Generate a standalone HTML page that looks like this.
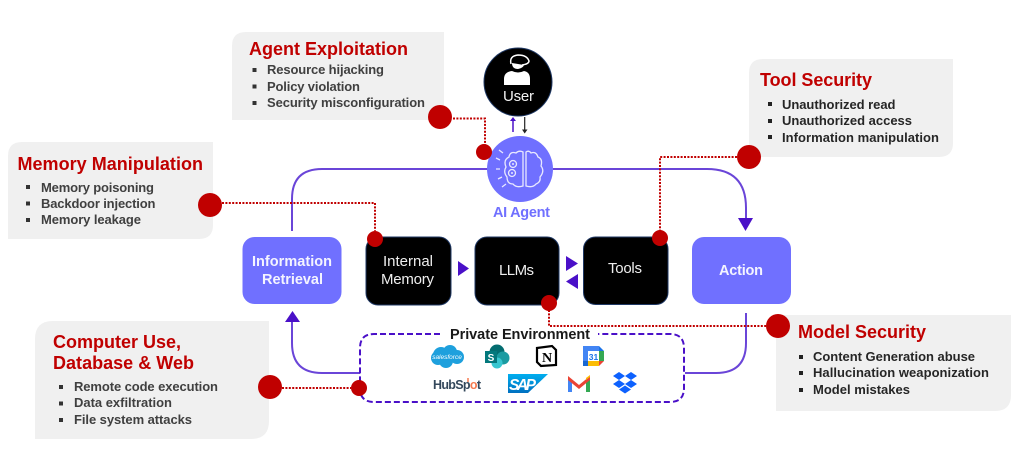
<!DOCTYPE html>
<html><head><meta charset="utf-8"><style>
html,body{margin:0;padding:0;background:#fff}
svg{display:block;filter:blur(0.35px)}
text{font-family:"Liberation Sans",sans-serif}
.t{font-size:18px;font-weight:bold;fill:#c00000}
.b{font-size:13px;font-weight:bold;fill:#404040}
.d{font-size:13px;font-weight:bold;fill:#262626}
.n{font-size:15px;fill:#eee}
.p{font-size:14.5px;font-weight:bold;fill:#f4f4ff}
.dot{stroke:#c00000;stroke-width:2;stroke-dasharray:2 1.4;fill:none}
.pl{stroke:#6a45d8;stroke-width:2;fill:none}
.w{fill:none;stroke:#e8e8ff;stroke-width:1.3}
</style></head><body>
<svg width="1024" height="463" viewBox="0 0 1024 463" xmlns="http://www.w3.org/2000/svg">
<rect width="1024" height="463" fill="#fff"/>

<!-- boxes -->
<g fill="#f0f0f0">
<path d="M246 32H444V120H232V46Q232 32 246 32Z"/>
<path d="M22 142H213V225Q213 239 199 239H8V156Q8 142 22 142Z"/>
<path d="M763 59H953V143Q953 157 939 157H749V73Q749 59 763 59Z"/>
<path d="M776 315H1011V395Q1011 411 995 411H776Z"/>
<path d="M53 321H269V421Q269 439 251 439H35V339Q35 321 53 321Z"/>
</g>

<!-- purple connectors -->
<path class="pl" d="M292 231V199Q292 169 322 169H490"/>
<path class="pl" d="M553 169H707Q746 169 746 208V219"/>
<path d="M738 218H753L745.500 231Z" fill="#4a10c8"/>
<path class="pl" d="M746 313V343Q746 373 716 373H685"/>
<path class="pl" d="M292 322V343Q292 373 322 373H360"/>
<path d="M285 322H300L292.500 311Z" fill="#4a10c8"/>
<path d="M458 261L469 268.500L458 276Z" fill="#4a10c8"/>
<path d="M566 256L578 263.500L566 271Z" fill="#4a10c8"/>
<path d="M578 274L566 281.500L578 289Z" fill="#4a10c8"/>

<!-- dotted connectors -->
<path class="dot" d="M453 118.500H485V145"/>
<path class="dot" d="M222 203H375V231"/>
<path class="dot" d="M737 157H660V231"/>
<path class="dot" d="M549 310V326H766"/>
<path class="dot" d="M282 388H351"/>

<!-- private env -->
<path d="M440 334H374Q360 334 360 348V388Q360 402 374 402H670Q684 402 684 388V348Q684 334 670 334H598" fill="#fff" stroke="#4a10c8" stroke-width="2" stroke-dasharray="6 3"/>
<text x="450" y="339" font-size="14.500" font-weight="bold" fill="#1a1a1a" textLength="140">Private Environment</text>

<!-- nodes -->
<rect x="242.500" y="237" width="99" height="67" rx="12" fill="#7070ff"/>
<rect x="692" y="237" width="99" height="67" rx="12" fill="#7070ff"/>
<g fill="#000" stroke="#1f3864" stroke-width="1">
<rect x="366" y="237" width="85" height="68" rx="12"/>
<rect x="475" y="237" width="84" height="68" rx="12"/>
<rect x="583.500" y="237" width="84.500" height="67.500" rx="12"/>
</g>
<text class="p" x="252" y="266" textLength="80">Information</text>
<text class="p" x="262" y="284" textLength="61">Retrieval</text>
<text class="p" x="719" y="275" textLength="44">Action</text>
<text class="n" x="383" y="266" textLength="50">Internal</text>
<text class="n" x="381" y="284" textLength="53">Memory</text>
<text class="n" x="499" y="275" textLength="35">LLMs</text>
<text class="n" x="608" y="273" textLength="34">Tools</text>

<!-- user -->
<circle cx="518" cy="82" r="34" fill="#000" stroke="#1f3864"/>
<path d="M504 85V79Q504 72 512 71Q518 74 524 71Q530 72 530 79V85Z" fill="#fff"/>
<path d="M512 63Q512 69 518 69Q523 68 524 65Z" fill="#fff"/>
<path d="M511 64Q509 56 518 55Q527 55 529 61Q529 64 522 65" fill="none" stroke="#fff" stroke-width="1.500"/>
<text x="503" y="101" font-size="15" fill="#f2f2f2" textLength="31">User</text>

<path d="M513 132V121" stroke="#4a10c8" stroke-width="1.500"/>
<path d="M510 121H516L513 117Z" fill="#4a10c8"/>
<path d="M524.700 117V130" stroke="#222" stroke-width="1.200"/>
<path d="M522 129.500H527.500L524.700 133.500Z" fill="#222"/>

<!-- agent -->
<circle cx="520" cy="169" r="33" fill="#7070ff"/>
<path class="w" d="M523 152V186Q516 188 513 184Q507 184 507 177Q503 172 506 167Q503 160 509 157Q510 151 516 153Q519 150 523 152Z"/>
<path class="w" d="M526 152V186Q533 188 536 184Q541 182 540 177Q545 171 541 166Q543 159 538 157Q536 151 531 153Q529 150 526 152Z"/>
<circle class="w" cx="513" cy="164" r="3.500"/><circle cx="513" cy="164" r="1" fill="#e8e8ff"/>
<circle class="w" cx="512" cy="173" r="3.500"/><circle cx="512" cy="173" r="1" fill="#e8e8ff"/>
<path class="w" d="M503 153L499 150M500 160L496 158M500 169H496M502 177L498 179M506 184L502 187"/>
<text x="493" y="217" font-size="14.500" font-weight="bold" fill="#7070ff" textLength="57">AI Agent</text>

<!-- red dots -->
<g fill="#c00000">
<circle cx="440" cy="117" r="12"/><circle cx="484" cy="152" r="8"/>
<circle cx="210" cy="205" r="12"/><circle cx="375" cy="239" r="8"/>
<circle cx="749" cy="157" r="12"/><circle cx="660" cy="238" r="8"/>
<circle cx="778" cy="326" r="12"/><circle cx="549" cy="303" r="8"/>
<circle cx="270" cy="387" r="12"/><circle cx="359" cy="388" r="8"/>
</g>

<!-- text blocks -->
<text class="t" x="249" y="55" textLength="159">Agent Exploitation</text>
<g fill="#333"><rect x="252.500" y="68" width="4" height="4"/><rect x="252.500" y="84.500" width="4" height="4"/><rect x="252.500" y="101" width="4" height="4"/></g>
<text class="b" x="267" y="74" textLength="117">Resource hijacking</text>
<text class="b" x="267" y="91" textLength="93">Policy violation</text>
<text class="b" x="267" y="107" textLength="158">Security misconfiguration</text>

<text class="t" x="17.500" y="170" textLength="185.500">Memory Manipulation</text>
<g fill="#333"><rect x="26" y="185" width="4" height="4"/><rect x="26" y="201.500" width="4" height="4"/><rect x="26" y="218" width="4" height="4"/></g>
<text class="b" x="41" y="192" textLength="113">Memory poisoning</text>
<text class="b" x="41" y="208" textLength="114.500">Backdoor injection</text>
<text class="b" x="41" y="224" textLength="100">Memory leakage</text>

<text class="t" x="760" y="86" textLength="112">Tool Security</text>
<g fill="#222"><rect x="768" y="102" width="4" height="4"/><rect x="768" y="119" width="4" height="4"/><rect x="768" y="135" width="4" height="4"/></g>
<text class="d" x="782" y="109" textLength="113.500">Unauthorized read</text>
<text class="d" x="782" y="125" textLength="130">Unauthorized access</text>
<text class="d" x="782" y="142" textLength="157">Information manipulation</text>

<text class="t" x="798" y="338" textLength="128">Model Security</text>
<g fill="#222"><rect x="799" y="355" width="4" height="4"/><rect x="799" y="371" width="4" height="4"/><rect x="799" y="388" width="4" height="4"/></g>
<text class="d" x="813" y="361" textLength="162">Content Generation abuse</text>
<text class="d" x="813" y="377" textLength="176">Hallucination weaponization</text>
<text class="d" x="813" y="394" textLength="97">Model mistakes</text>

<text class="t" x="53" y="348" textLength="128">Computer Use,</text>
<text class="t" x="53" y="369" textLength="141">Database &amp; Web</text>
<g fill="#333"><rect x="59" y="385" width="4" height="4"/><rect x="59" y="401.500" width="4" height="4"/><rect x="59" y="418" width="4" height="4"/></g>
<text class="b" x="74" y="391" textLength="144">Remote code execution</text>
<text class="b" x="74" y="407" textLength="98">Data exfiltration</text>
<text class="b" x="74" y="424" textLength="118">File system attacks</text>

<!-- salesforce -->
<g fill="#1ea0dd"><circle cx="441" cy="355" r="8"/><circle cx="450" cy="352" r="7"/><circle cx="457" cy="357" r="7"/><circle cx="446" cy="361" r="7"/><circle cx="438" cy="358" r="7"/></g>
<text x="447" y="359" font-size="6.500" font-style="italic" fill="#fff" text-anchor="middle">salesforce</text>
<!-- sharepoint -->
<circle cx="497" cy="352" r="7.500" fill="#036c70"/><circle cx="503" cy="358" r="6.500" fill="#1a9ba1"/><circle cx="497" cy="363" r="5.500" fill="#37c6d0"/>
<rect x="485" y="351" width="12" height="12" fill="#03787c"/>
<text x="491" y="361" font-size="10" font-weight="bold" fill="#fff" text-anchor="middle">S</text>
<!-- notion -->
<path d="M537 348L552 346L556 350V365L541 366L537 362Z" fill="#fff" stroke="#000" stroke-width="2.200"/>
<text x="547" y="362" font-size="14" font-weight="bold" fill="#000" text-anchor="middle" style="font-family:'Liberation Serif',serif">N</text>
<!-- calendar -->
<rect x="583" y="346" width="21" height="20" rx="2" fill="#fff"/>
<path d="M583 346H599V351H588V361H583Z" fill="#4285f4"/>
<path d="M599 346L604 351H599Z" fill="#1a73e8"/>
<rect x="599" y="351" width="5" height="10" fill="#34a853"/>
<rect x="588" y="361" width="11" height="5" fill="#fbbc04"/>
<rect x="583" y="361" width="5" height="5" fill="#1967d2"/>
<path d="M599 361H604L599 366Z" fill="#ea4335"/>
<text x="593.500" y="360" font-size="8.500" font-weight="bold" fill="#1a73e8" text-anchor="middle">31</text>
<!-- hubspot -->
<text x="433" y="389" font-size="12.500" font-weight="bold" fill="#33475b" textLength="48">HubSp<tspan fill="#f57a50">o</tspan>t</text>
<path d="M468 378V382" stroke="#f57a50" stroke-width="1.500"/>
<!-- sap -->
<defs><linearGradient id="s" x1="0" y1="0" x2="0" y2="1"><stop offset="0" stop-color="#00aeef"/><stop offset="1" stop-color="#0070c0"/></linearGradient></defs>
<path d="M508 374H548L528 393H508Z" fill="url(#s)"/>
<text x="509" y="390" font-size="15.500" font-weight="bold" font-style="italic" fill="#fff" textLength="27">SAP</text>
<!-- gmail -->
<path d="M568 378V392H572V382Z" fill="#4285f4"/>
<path d="M586 382V392H590V378Z" fill="#34a853"/>
<path d="M568 376L579 385L590 376V380L579 389L568 380Z" fill="#ea4335"/>
<path d="M586 380L590 377V375L586 378Z" fill="#fbbc04"/>
<!-- dropbox -->
<g fill="#0d61fe"><path d="M619 372L625 376L619 380L613 376Z"/><path d="M631 372L637 376L631 380L625 376Z"/><path d="M619 380L625 384L619 388L613 384Z"/><path d="M631 380L637 384L631 388L625 384Z"/><path d="M625 385.500L631 389.500L625 393.500L619 389.500Z"/></g>
</svg>
</body></html>
